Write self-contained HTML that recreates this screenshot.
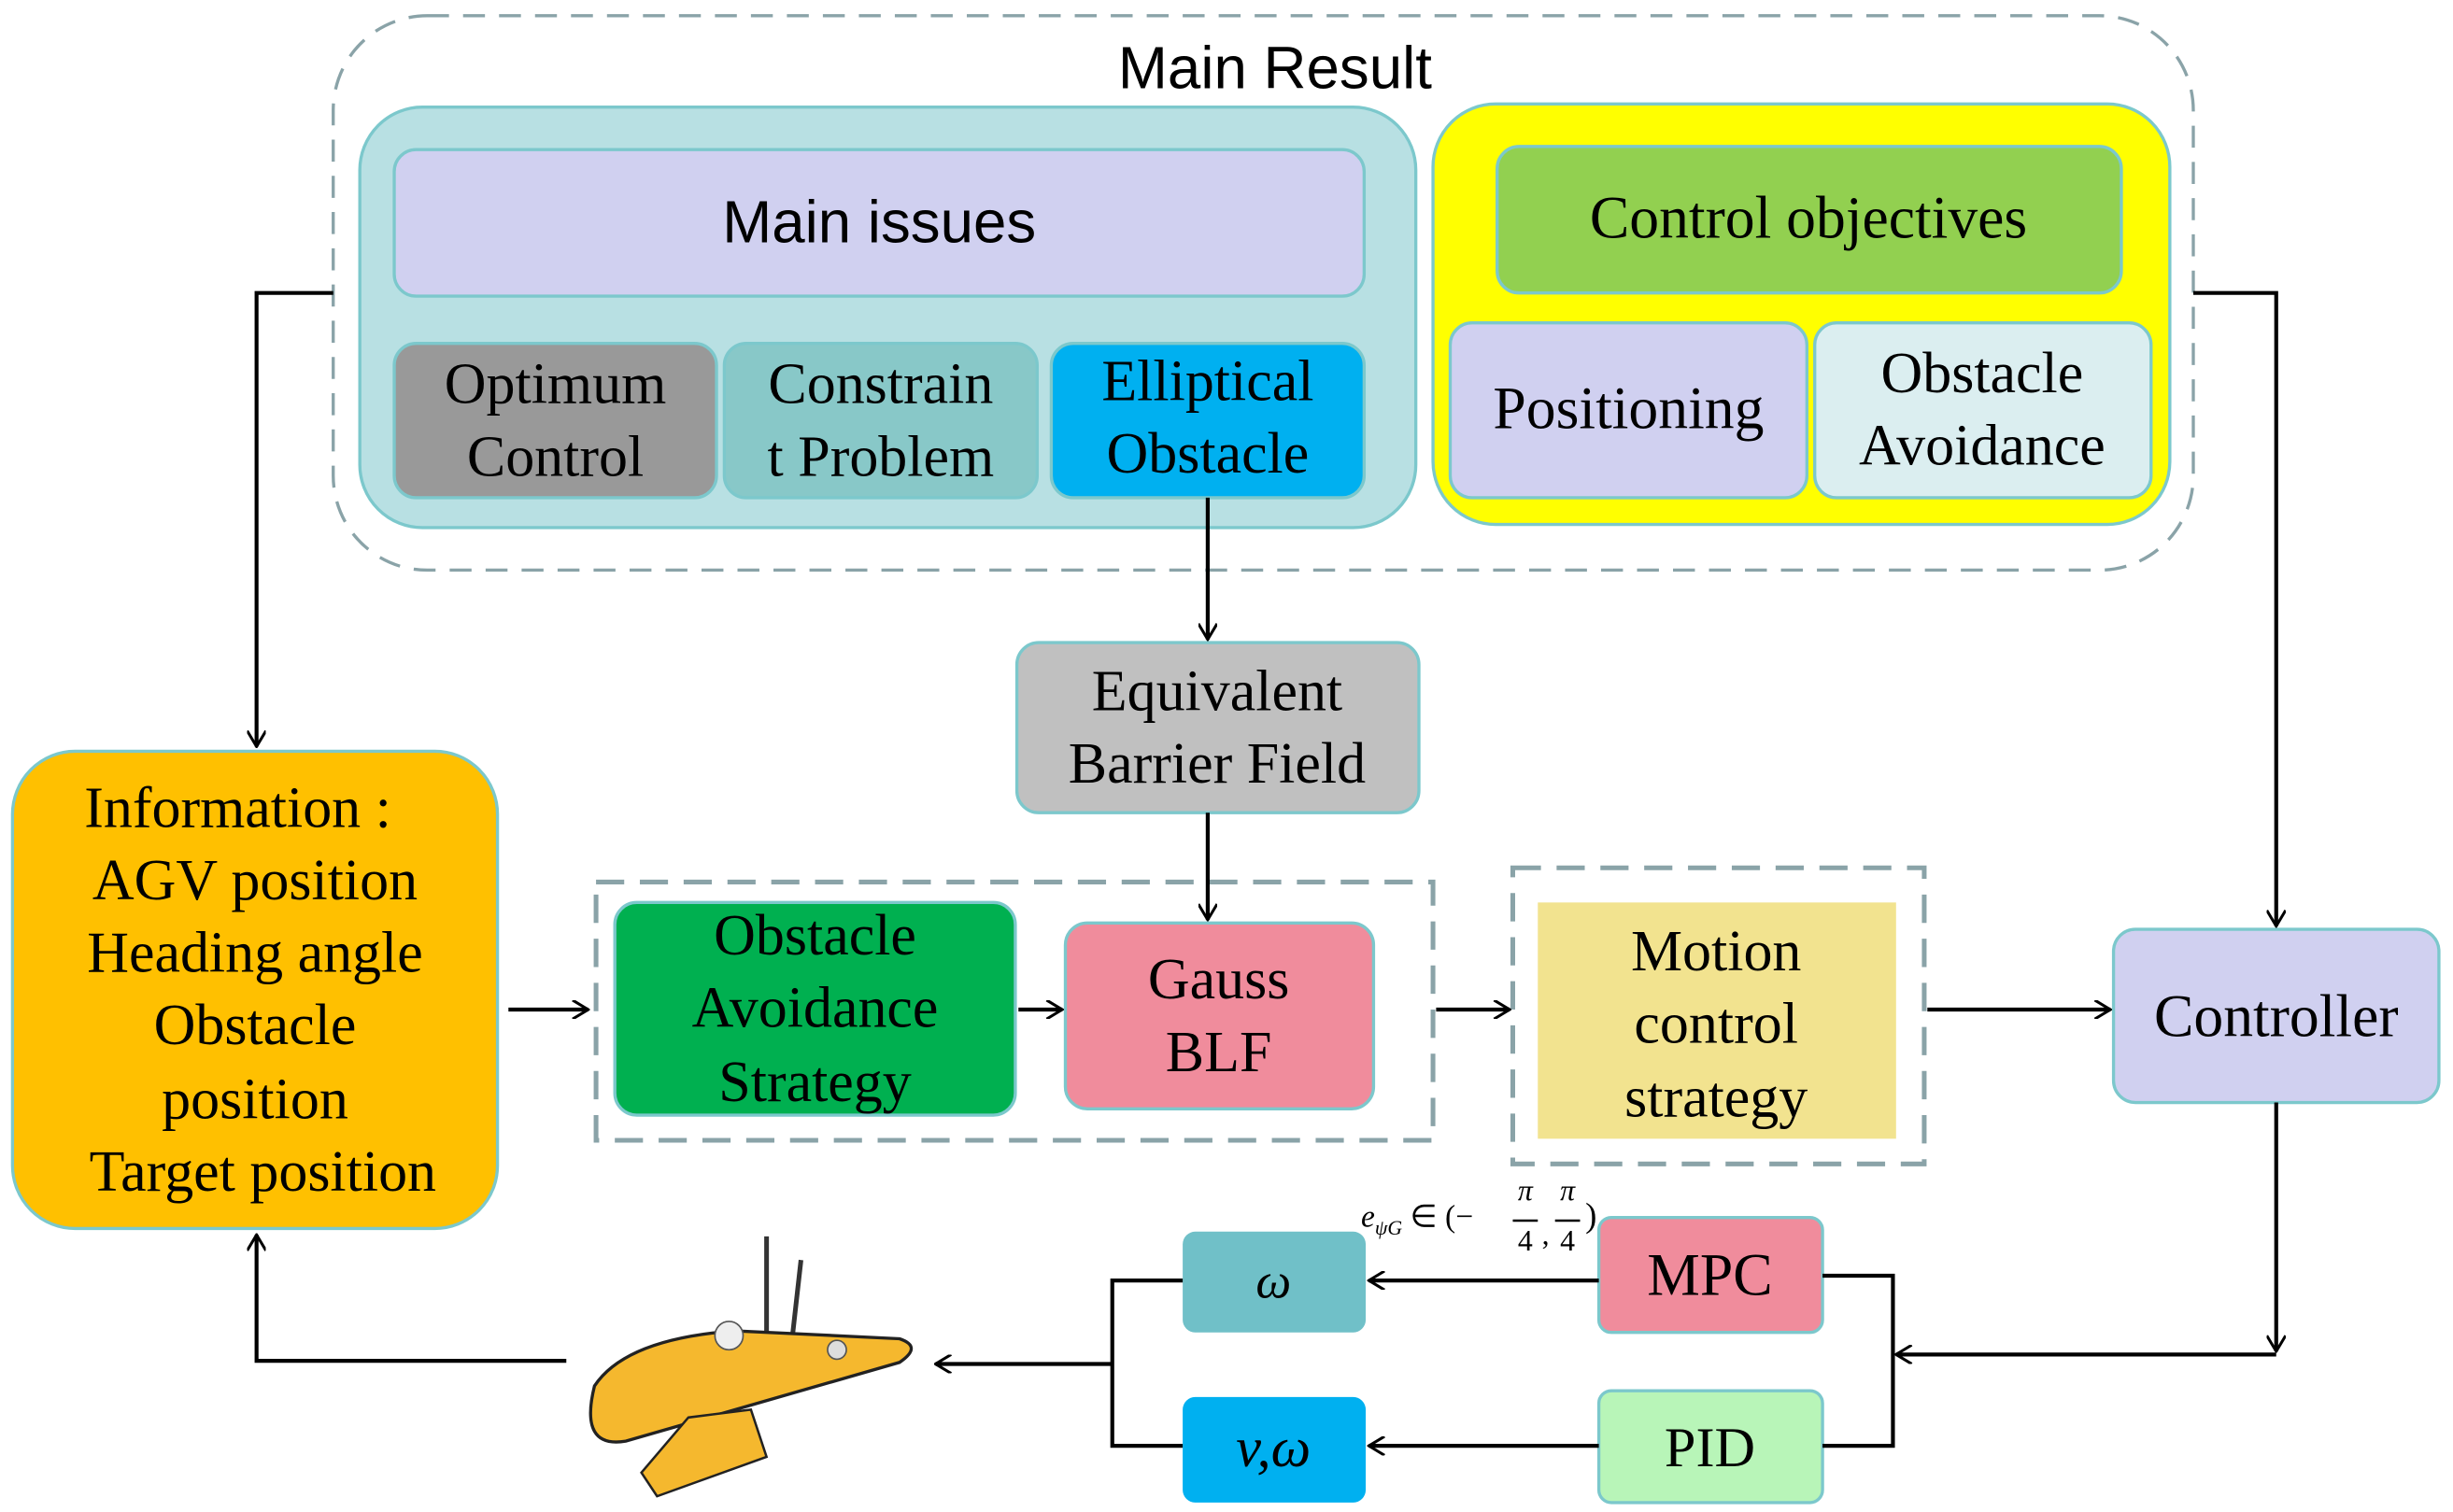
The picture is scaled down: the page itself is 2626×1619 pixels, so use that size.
<!DOCTYPE html>
<html><head><style>html,body{margin:0;padding:0;background:#fff}svg{display:block}</style></head>
<body>
<svg width="2626" height="1619" viewBox="0 0 1568 960" preserveAspectRatio="none" xmlns="http://www.w3.org/2000/svg">
<defs>
<marker id="a" viewBox="0 0 12 12" refX="11" refY="6" markerWidth="12" markerHeight="12" markerUnits="userSpaceOnUse" orient="auto">
<path d="M1,0 L11,6 L1,12" fill="none" stroke="#000" stroke-width="1.8"/></marker>
</defs>
<g font-family="Liberation Serif, serif" text-anchor="middle" fill="#000">
<rect x="213" y="10" width="1189" height="352" rx="60" fill="none" stroke="#8aa3a8" stroke-width="2" stroke-dasharray="14,9"/>
<text x="815" y="56" font-family="Liberation Sans, sans-serif" font-size="38">Main Result</text>

<rect x="230" y="68" width="675" height="267" rx="40" fill="#b8e0e3" stroke="#7cc8cc" stroke-width="2"/>
<rect x="252" y="95" width="620" height="93" rx="14" fill="#d0d0f0" stroke="#7cc8cc" stroke-width="2"/>
<text x="562" y="154" font-family="Liberation Sans, sans-serif" font-size="38">Main issues</text>
<g font-size="37">
<rect x="252" y="218" width="206" height="98" rx="14" fill="#999" stroke="#7cc8cc" stroke-width="2"/>
<text x="355" y="256">Optimum</text><text x="355" y="302">Control</text>
<rect x="463" y="218" width="200" height="98" rx="14" fill="#88c8c8" stroke="#7cc8cc" stroke-width="2"/>
<text x="563" y="256">Constrain</text><text x="563" y="302">t Problem</text>
<rect x="672" y="218" width="200" height="98" rx="14" fill="#00b0f0" stroke="#7cc8cc" stroke-width="2"/>
<text x="772" y="254">Elliptical</text><text x="772" y="300">Obstacle</text>
</g>

<rect x="916" y="66" width="471" height="267" rx="40" fill="#ffff00" stroke="#7cc8cc" stroke-width="2"/>
<rect x="957" y="93" width="399" height="93" rx="14" fill="#92d050" stroke="#7cc8cc" stroke-width="2"/>
<g font-size="38">
<text x="1156" y="151">Control objectives</text>
<rect x="927" y="205" width="228" height="111" rx="14" fill="#d0d0f0" stroke="#7cc8cc" stroke-width="2"/>
<text x="1041" y="272">Positioning</text>
</g>
<g font-size="37">
<rect x="1160" y="205" width="215" height="111" rx="14" fill="#dbeef0" stroke="#7cc8cc" stroke-width="2"/>
<text x="1267" y="249">Obstacle</text><text x="1267" y="295">Avoidance</text>

<rect x="650" y="408" width="257" height="108" rx="14" fill="#c0c0c0" stroke="#7cc8cc" stroke-width="2"/>
<text x="778" y="451">Equivalent</text><text x="778" y="497">Barrier Field</text>

<rect x="8" y="477" width="310" height="303" rx="40" fill="#ffc000" stroke="#7cc8cc" stroke-width="2"/>
<text x="152" y="525">Information :</text><text x="163" y="571">AGV position</text>
<text x="163" y="617">Heading angle</text><text x="163" y="663">Obstacle</text>
<text x="163" y="710">position</text><text x="168" y="756">Target position</text>

<rect x="381" y="560" width="535" height="164" fill="none" stroke="#8aa3a8" stroke-width="3" stroke-dasharray="18,10"/>
<rect x="393" y="573" width="256" height="135" rx="14" fill="#00b050" stroke="#7cc8cc" stroke-width="2"/>
<text x="521" y="606">Obstacle</text><text x="521" y="652">Avoidance</text><text x="521" y="699">Strategy</text>
<rect x="681" y="586" width="197" height="118" rx="14" fill="#f08c9c" stroke="#7cc8cc" stroke-width="2"/>
<text x="779" y="634">Gauss</text><text x="779" y="680">BLF</text>

<rect x="967" y="551" width="263" height="188" fill="none" stroke="#8aa3a8" stroke-width="3" stroke-dasharray="18,10"/>
<rect x="983" y="573" width="229" height="150" fill="#f2e38f"/>
<text x="1097" y="616">Motion</text><text x="1097" y="662">control</text><text x="1097" y="709">strategy</text>
</g>

<rect x="1351" y="590" width="208" height="110" rx="14" fill="#d0d0f0" stroke="#7cc8cc" stroke-width="2"/>
<text x="1455" y="658" font-size="38">Controller</text>

<rect x="1022" y="773" width="143" height="73" rx="8" fill="#f08c9c" stroke="#7cc8cc" stroke-width="2"/>
<text x="1093" y="822" font-size="38">MPC</text>
<rect x="1022" y="883" width="143" height="71" rx="8" fill="#b8f5b8" stroke="#7cc8cc" stroke-width="2"/>
<text x="1093" y="931" font-size="36">PID</text>
<rect x="756" y="782" width="117" height="64" rx="8" fill="#70c0c8"/>
<text x="814" y="824" font-size="32" font-style="italic">ω</text>
<rect x="756" y="887" width="117" height="67" rx="8" fill="#00b0f0"/>
<text x="814" y="931" font-size="36" font-style="italic">v,ω</text>

<text x="870" y="779" font-size="20" text-anchor="start" font-style="italic">e<tspan font-size="13" dy="5">ψG</tspan><tspan dy="-5" font-style="normal"> ∈ (−</tspan></text>
<text x="975" y="762" font-size="19" font-style="italic">π</text><text x="975" y="794" font-size="19">4</text>
<line x1="967" y1="775" x2="983" y2="775" stroke="#000" stroke-width="1.5"/>
<text x="988" y="790" font-size="19">,</text>
<text x="1002" y="762" font-size="19" font-style="italic">π</text><text x="1002" y="794" font-size="19">4</text>
<line x1="994" y1="775" x2="1010" y2="775" stroke="#000" stroke-width="1.5"/>
<text x="1017" y="779" font-size="22">)</text>
</g>

<!-- boat -->
<g>
<line x1="490" y1="860" x2="490" y2="785" stroke="#333" stroke-width="3"/>
<line x1="505" y1="862" x2="512" y2="800" stroke="#333" stroke-width="3"/>
<path d="M380,880 Q400,850 470,845 L575,850 Q590,855 575,865 L400,915 Q370,920 380,880Z" fill="#f5b82e" stroke="#222" stroke-width="2"/>
<path d="M440,900 L480,895 L490,925 L420,950 L410,935Z" fill="#f5b82e" stroke="#222" stroke-width="1.5"/>
<circle cx="466" cy="848" r="9" fill="#eee" stroke="#555"/>
<circle cx="535" cy="857" r="6" fill="#ddd" stroke="#555"/>
</g>

<g fill="none" stroke="#000" stroke-width="2.5">
<path d="M213,186 H164 V474" marker-end="url(#a)"/>
<path d="M1402,186 H1455 V588" marker-end="url(#a)"/>
<path d="M772,316 V406" marker-end="url(#a)"/>
<path d="M772,516 V584" marker-end="url(#a)"/>
<path d="M325,641 H376" marker-end="url(#a)"/>
<path d="M651,641 H679" marker-end="url(#a)"/>
<path d="M918,641 H965" marker-end="url(#a)"/>
<path d="M1232,641 H1349" marker-end="url(#a)"/>
<path d="M1455,700 V858" marker-end="url(#a)"/>
<path d="M1455,860 H1212" marker-end="url(#a)"/>
<path d="M1165,810 H1210 V918 H1165"/>
<path d="M1022,813 H875" marker-end="url(#a)"/>
<path d="M1022,918 H875" marker-end="url(#a)"/>
<path d="M756,813 H711 V918 H756"/>
<path d="M711,866 H598" marker-end="url(#a)"/>
<path d="M362,864 H164 V784" marker-end="url(#a)"/>
</g>
</svg>
</body></html>
